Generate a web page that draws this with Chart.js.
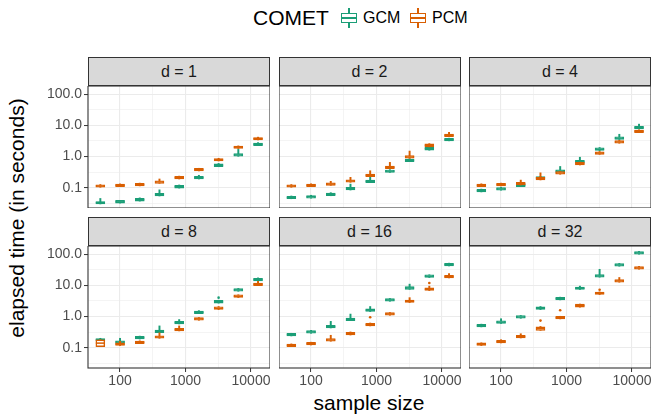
<!DOCTYPE html>
<html>
<head>
<meta charset="UTF-8">
<title>COMET elapsed time</title>
<script src="https://cdn.jsdelivr.net/npm/chart.js"></script>
<style>
  body { margin: 0; background: #fff; font-family: "Liberation Sans", Arial, sans-serif; }
  #wrap { position: relative; width: 667px; height: 418px; overflow: hidden; }
  .strip { position: absolute; background: #d9d9d9; border: 1px solid #333; box-sizing: border-box;
           text-align: center; font-size: 16px; color: #1a1a1a; line-height: 27px; }
  .cv { position: absolute; }
  .title { position: absolute; font-size: 21px; color: #000; text-align: center; white-space: nowrap; }
  .key { position: absolute; width: 18px; height: 20px; }
  .key .box { position: absolute; left: 1px; top: 5px; width: 16px; height: 10px; box-sizing: border-box;
              border: 1.5px solid; background: #fff; }
  .key .med { position: absolute; left: 1px; top: 9.3px; width: 16px; height: 1.5px; }
  .key .wh { position: absolute; left: 8.3px; width: 1.5px; }
  .ltxt { position: absolute; font-size: 16px; color: #000; }
</style>
</head>
<body>
<div id="wrap">
  <div class="title" style="left:253px; top:6px; line-height:24px;">COMET</div>
  <div class="key" style="left:340px; top:8px;">
    <div class="wh" style="top:0; height:5px; background:#1b9e77"></div>
    <div class="wh" style="top:15px; height:5px; background:#1b9e77"></div>
    <div class="box" style="border-color:#1b9e77"></div>
    <div class="med" style="background:#1b9e77"></div>
  </div>
  <div class="ltxt" style="left:363px; top:9px;">GCM</div>
  <div class="key" style="left:409px; top:8px;">
    <div class="wh" style="top:0; height:5px; background:#d95f02"></div>
    <div class="wh" style="top:15px; height:5px; background:#d95f02"></div>
    <div class="box" style="border-color:#d95f02"></div>
    <div class="med" style="background:#d95f02"></div>
  </div>
  <div class="ltxt" style="left:432px; top:9px;">PCM</div>

  <div class="title" style="left:-133px; top:206px; width:300px; line-height:24px; transform:rotate(-90deg);">elapsed time (in seconds)</div>
  <div class="title" style="left:219px; top:391px; width:300px; line-height:24px;">sample size</div>
</div>

<script>
// sample sizes and facets
const sizes = [50, 100, 200, 400, 800, 1600, 3200, 6400, 12800];
const facets = ['d = 1', 'd = 2', 'd = 4', 'd = 8', 'd = 16', 'd = 32'];

// axis ticks
const xMajor = [100, 1000, 10000];
const xTickLabels = ['100', '1000', '10000'];
const xMinor = [316.2, 3162.3];
const yMajor = [0.1, 1, 10, 100];
const yTickLabels = ['0.1', '1.0', '10.0', '100.0'];
const yMinor = [0.03162, 0.3162, 3.162, 31.62];

// GCM boxes, one row per facet
const gcmMed = [
  [0.033, 0.035, 0.041, 0.060, 0.108, 0.21, 0.525, 1.13, 2.48],
  [0.048, 0.051, 0.061, 0.093, 0.16, 0.34, 0.76, 1.8, 3.5],
  [0.080, 0.091, 0.119, 0.205, 0.34, 0.69, 1.72, 3.9, 8.5],
  [0.18, 0.152, 0.21, 0.337, 0.64, 1.37, 3.0, 7.2, 15.4],
  [0.262, 0.32, 0.47, 0.82, 1.6, 3.4, 8.3, 19.8, 46.6],
  [0.51, 0.66, 0.97, 1.85, 3.77, 8.1, 20.2, 45.6, 111]
];
const gcmQ1 = [
  [0.030, 0.032, 0.037, 0.054, 0.097, 0.19, 0.47, 1.02, 2.25],
  [0.044, 0.046, 0.055, 0.084, 0.145, 0.31, 0.69, 1.6, 3.2],
  [0.073, 0.083, 0.108, 0.186, 0.31, 0.63, 1.56, 3.55, 7.7],
  [0.165, 0.138, 0.19, 0.305, 0.58, 1.24, 2.7, 6.5, 14],
  [0.238, 0.29, 0.43, 0.74, 1.45, 3.1, 7.5, 18, 42.3],
  [0.465, 0.6, 0.88, 1.68, 3.43, 7.4, 18.4, 41.5, 101]
];
const gcmQ3 = [
  [0.036, 0.039, 0.045, 0.066, 0.118, 0.23, 0.58, 1.25, 2.72],
  [0.053, 0.056, 0.067, 0.102, 0.176, 0.37, 0.83, 2.0, 3.85],
  [0.088, 0.100, 0.131, 0.225, 0.375, 0.76, 1.9, 4.3, 9.35],
  [0.195, 0.167, 0.23, 0.37, 0.70, 1.5, 3.3, 7.9, 16.9],
  [0.288, 0.352, 0.52, 0.9, 1.76, 3.75, 9.1, 21.8, 51.3],
  [0.56, 0.73, 1.07, 2.04, 4.15, 8.9, 22.2, 50, 122]
];
const gcmHi = [
  [0.045, 0.039, 0.047, 0.085, 0.122, 0.25, 0.60, 1.7, 2.8],
  [0.054, 0.057, 0.069, 0.13, 0.23, 0.38, 0.85, 2.05, 3.9],
  [0.09, 0.102, 0.14, 0.23, 0.48, 0.95, 1.95, 5.2, 11],
  [0.2, 0.2, 0.235, 0.5, 0.8, 1.55, 3.35, 8.0, 17.5],
  [0.29, 0.36, 0.7, 1.2, 2.1, 3.8, 11, 22, 52],
  [0.57, 0.85, 1.08, 2.1, 4.2, 9.5, 33, 51, 124]
];
const gcmOut = [[], [], [], [[3200, 4.05]], [], []];

// PCM boxes
const pcmMed = [
  [0.113, 0.119, 0.125, 0.152, 0.21, 0.38, 0.79, 2.0, 3.76],
  [0.113, 0.119, 0.131, 0.164, 0.25, 0.45, 0.97, 2.3, 4.8],
  [0.119, 0.125, 0.134, 0.195, 0.297, 0.59, 1.3, 2.95, 6.5],
  [0.14, 0.129, 0.149, 0.22, 0.38, 0.84, 1.85, 4.5, 10.9],
  [0.119, 0.134, 0.177, 0.28, 0.55, 1.21, 3.1, 7.55, 19.2],
  [0.129, 0.156, 0.226, 0.42, 0.92, 2.24, 5.6, 14, 36.5]
];
const pcmQ1 = [
  [0.103, 0.108, 0.114, 0.138, 0.19, 0.345, 0.72, 1.82, 3.42],
  [0.103, 0.108, 0.119, 0.149, 0.227, 0.41, 0.88, 2.05, 4.35],
  [0.108, 0.114, 0.122, 0.177, 0.27, 0.535, 1.18, 2.68, 5.9],
  [0.108, 0.117, 0.135, 0.2, 0.345, 0.76, 1.68, 4.1, 9.9],
  [0.108, 0.122, 0.161, 0.255, 0.5, 1.1, 2.82, 6.85, 17.4],
  [0.117, 0.142, 0.205, 0.36, 0.84, 2.0, 5.1, 12.7, 33.2]
];
const pcmQ3 = [
  [0.124, 0.130, 0.137, 0.166, 0.23, 0.415, 0.86, 2.18, 4.1],
  [0.124, 0.130, 0.144, 0.18, 0.275, 0.495, 1.07, 2.55, 5.3],
  [0.131, 0.138, 0.148, 0.215, 0.327, 0.65, 1.43, 3.25, 7.15],
  [0.177, 0.142, 0.164, 0.242, 0.42, 0.92, 2.05, 4.95, 12],
  [0.131, 0.147, 0.195, 0.31, 0.605, 1.33, 3.4, 8.3, 21.1],
  [0.142, 0.172, 0.25, 0.47, 1.01, 2.5, 6.15, 15.4, 40]
];
const pcmHi = [
  [0.126, 0.132, 0.14, 0.19, 0.235, 0.42, 0.88, 2.2, 4.2],
  [0.126, 0.133, 0.16, 0.215, 0.35, 0.65, 1.5, 2.6, 6.0],
  [0.133, 0.14, 0.175, 0.30, 0.33, 0.66, 1.45, 3.3, 7.2],
  [0.18, 0.16, 0.166, 0.3, 0.5, 0.93, 2.1, 5.0, 13.5],
  [0.132, 0.15, 0.25, 0.32, 0.62, 1.35, 4.05, 9.5, 24],
  [0.143, 0.18, 0.28, 0.48, 1.02, 2.52, 6.2, 18, 41]
];
const pcmOut = [[], [], [], [], [[800, 0.95], [6400, 12]], [[400, 0.74], [800, 1.6], [3200, 7.3]]];

const GREEN = '#1b9e77';
const ORANGE = '#d95f02';
const FONT = '"Liberation Sans", Arial, sans-serif';

// panel layout (px)
const colLeft = [88, 278.5, 469];
const rowTop = [85.5, 245.5];
const panelW = 182, panelH = 122;
const xMin = 32.4, xMax = 19500;
const yMin = 0.0222, yMax = 185;

const wrap = document.getElementById('wrap');

const near = (v, arr) => arr.findIndex(m => Math.abs(v - m) / m < 1e-3);

const panelBorder = {
  id: 'panelBorder',
  afterDraw(chart) {
    const a = chart.chartArea, ctx = chart.ctx;
    ctx.save();
    ctx.strokeStyle = '#333';
    ctx.lineWidth = 1.1;
    ctx.strokeRect(a.left, a.top, a.right - a.left, a.bottom - a.top);
    ctx.restore();
  }
};

function methodSets(med, q1, q3, hi, out, color, base) {
  return [
    { type: 'bar', data: sizes.map((n, k) => ({ x: n, y: [q1[k], hi[k]] })),
      backgroundColor: color, barThickness: 1.3, grouped: false, order: base + 2 },
    { type: 'bar', data: sizes.map((n, k) => ({ x: n, y: [q1[k], q3[k]] })),
      backgroundColor: '#fff', borderColor: color, borderWidth: 1.5, borderSkipped: false,
      barThickness: 9, grouped: false, order: base + 1 },
    { type: 'scatter', data: sizes.map((n, k) => ({ x: n, y: med[k] })),
      pointStyle: 'line', pointRadius: 4.5, borderColor: color, borderWidth: 1.5, order: base },
    { type: 'scatter', data: out.map(p => ({ x: p[0], y: p[1] })),
      pointRadius: 1.3, backgroundColor: color, borderWidth: 0, order: base }
  ];
}

facets.forEach((label, i) => {
  const r = Math.floor(i / 3), c = i % 3;
  const left = c === 0, bottom = r === 1;
  const axisW = left ? 60 : 0, axisH = bottom ? 30 : 0;

  const strip = document.createElement('div');
  strip.className = 'strip';
  strip.style.left = colLeft[c] + 'px';
  strip.style.top = (rowTop[r] - 29) + 'px';
  strip.style.width = panelW + 'px';
  strip.style.height = '29.5px';
  strip.textContent = label;
  wrap.appendChild(strip);

  const cv = document.createElement('canvas');
  cv.className = 'cv';
  cv.width = panelW + axisW;
  cv.height = panelH + axisH;
  cv.style.left = (colLeft[c] - axisW) + 'px';
  cv.style.top = rowTop[r] + 'px';
  wrap.appendChild(cv);

  new Chart(cv, {
    type: 'bar',
    data: {
      datasets: [
        ...methodSets(gcmMed[i], gcmQ1[i], gcmQ3[i], gcmHi[i], gcmOut[i], GREEN, 4),
        ...methodSets(pcmMed[i], pcmQ1[i], pcmQ3[i], pcmHi[i], pcmOut[i], ORANGE, 1)
      ]
    },
    options: {
      responsive: false,
      animation: false,
      events: [],
      layout: { padding: 0, autoPadding: false },
      plugins: { legend: { display: false }, tooltip: { enabled: false } },
      scales: {
        x: {
          type: 'logarithmic', min: xMin, max: xMax, offset: false, bounds: 'data',
          afterBuildTicks: s => { s.ticks = [...xMajor, ...xMinor].sort((a, b) => a - b).map(v => ({ value: v })); },
          afterFit: s => { s.height = axisH; s.paddingLeft = 0; s.paddingRight = 0; },
          border: { display: false },
          grid: {
            offset: false, color: '#ebebeb',
            lineWidth: ctx => near(ctx.tick.value, xMajor) >= 0 ? 1.1 : 0.55,
            drawTicks: bottom, tickLength: 4, tickWidth: 1,
            tickColor: ctx => near(ctx.tick.value, xMajor) >= 0 ? '#333' : 'rgba(0,0,0,0)'
          },
          ticks: {
            display: bottom, autoSkip: false, maxRotation: 0, padding: 1,
            color: '#4d4d4d', font: { family: FONT, size: 14 },
            callback: v => { const k = near(v, xMajor); return k >= 0 ? xTickLabels[k] : ''; }
          }
        },
        y: {
          type: 'logarithmic', min: yMin, max: yMax, bounds: 'data',
          afterBuildTicks: s => { s.ticks = [...yMajor, ...yMinor].sort((a, b) => a - b).map(v => ({ value: v })); },
          afterFit: s => { s.width = axisW; s.paddingTop = 0; s.paddingBottom = 0; },
          border: { display: false },
          grid: {
            color: '#ebebeb',
            lineWidth: ctx => near(ctx.tick.value, yMajor) >= 0 ? 1.1 : 0.55,
            drawTicks: left, tickLength: 4, tickWidth: 1,
            tickColor: ctx => near(ctx.tick.value, yMajor) >= 0 ? '#333' : 'rgba(0,0,0,0)'
          },
          ticks: {
            display: left, autoSkip: false, padding: 2,
            color: '#4d4d4d', font: { family: FONT, size: 14 },
            callback: v => { const k = near(v, yMajor); return k >= 0 ? yTickLabels[k] : ''; }
          }
        }
      }
    },
    plugins: [panelBorder]
  });
});
</script>
</body>
</html>
